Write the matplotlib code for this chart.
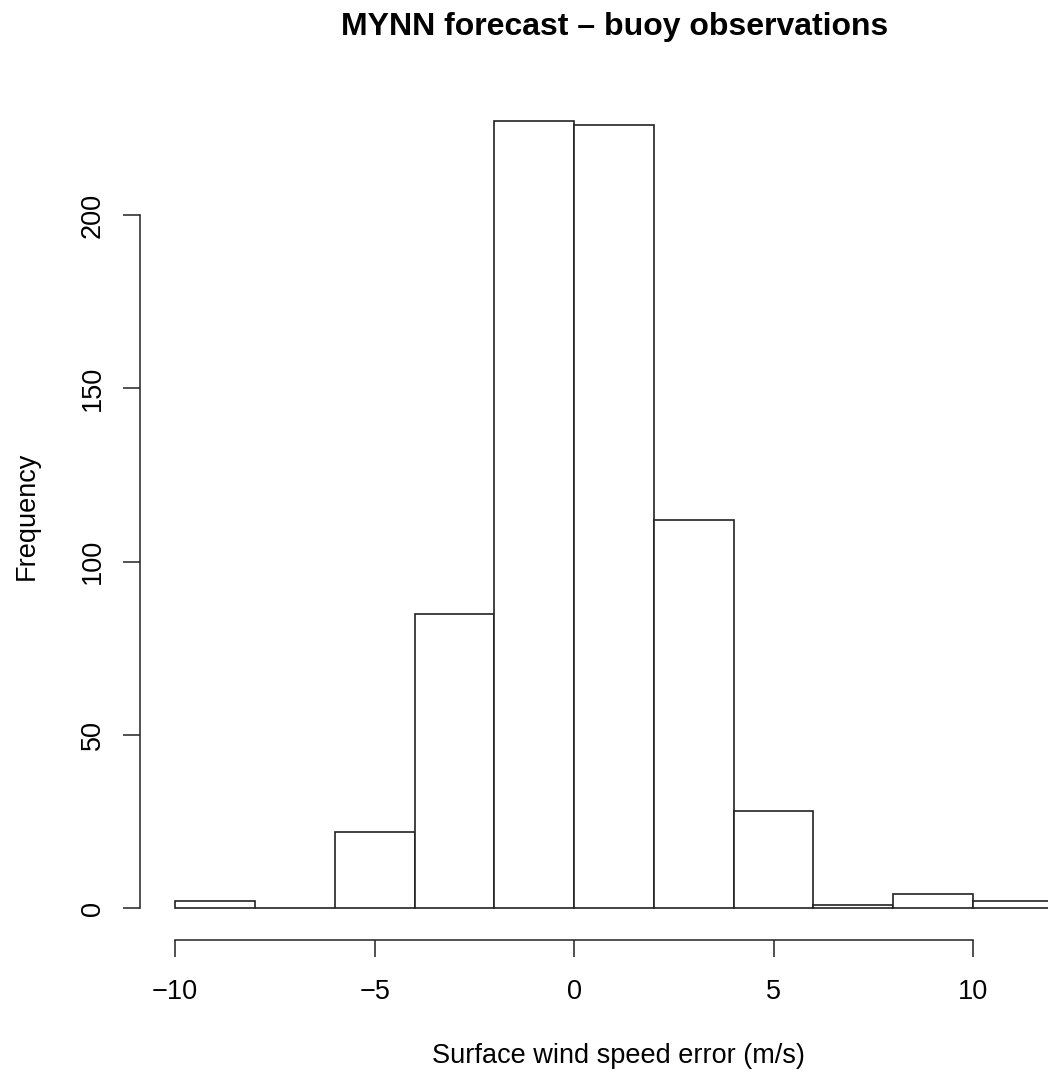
import numpy as np
import matplotlib.pyplot as plt

plt.rcParams['font.family'] = ['Liberation Sans', 'DejaVu Sans']

# bin edges and counts
breaks = [-10, -8, -6, -4, -2, 0, 2, 4, 6, 8, 10, 12]
counts = [2, 0, 22, 85, 227, 226, 112, 28, 1, 4, 2]
xticks = [-10, -5, 0, 5, 10]
yticks = [0, 50, 100, 150, 200]

fig = plt.figure(figsize=(10.48, 10.72), dpi=100)
ax = fig.add_axes([140/1048, 1 - 939.5/1072, 948/1048, 849.5/1072])

edges = np.array(breaks)
ax.bar(edges[:-1], counts, width=np.diff(edges), align='edge',
       facecolor='white', edgecolor='#222222', linewidth=1.2)

# R style: 4% padding, axes only over tick range
ax.set_xlim(-10 - 0.04*22, 12 + 0.04*22)
ax.set_ylim(-0.04*227, 227*1.04)
for s in ['top', 'right']:
    ax.spines[s].set_visible(False)
ax.spines['left'].set_bounds(0, 200)
ax.spines['bottom'].set_bounds(-10, 10)
for s in ['left', 'bottom']:
    ax.spines[s].set_linewidth(1.1)
    ax.spines[s].set_color('#222222')

ax.set_xticks(xticks)
ax.set_xticklabels(['\u221210', '\u22125', '0', '5', '10'])
ax.set_yticks(yticks)
ax.set_yticklabels([str(v) for v in yticks], rotation=90, va='center')
ax.tick_params(length=12.5, width=1.1, color='#222222', labelsize=19.5)
ax.tick_params(axis='x', pad=16)
ax.tick_params(axis='y', pad=12)

ax.set_xlabel('Surface wind speed error (m/s)', fontsize=19.5)
ax.set_ylabel('Frequency', fontsize=19.5)
ax.xaxis.set_label_coords(618/1048, 1 - 1056/1072, transform=fig.transFigure)
ax.yaxis.set_label_coords(27/1048, 1 - 516/1072, transform=fig.transFigure)
ax.xaxis.label.set_va('center')
ax.yaxis.label.set_va('center')
fig.text(615/1048, 1 - 27/1072, 'MYNN forecast \u2013 buoy observations',
         ha='center', va='center', fontsize=23, fontweight='bold')

fig.savefig('out.png', dpi=100)
